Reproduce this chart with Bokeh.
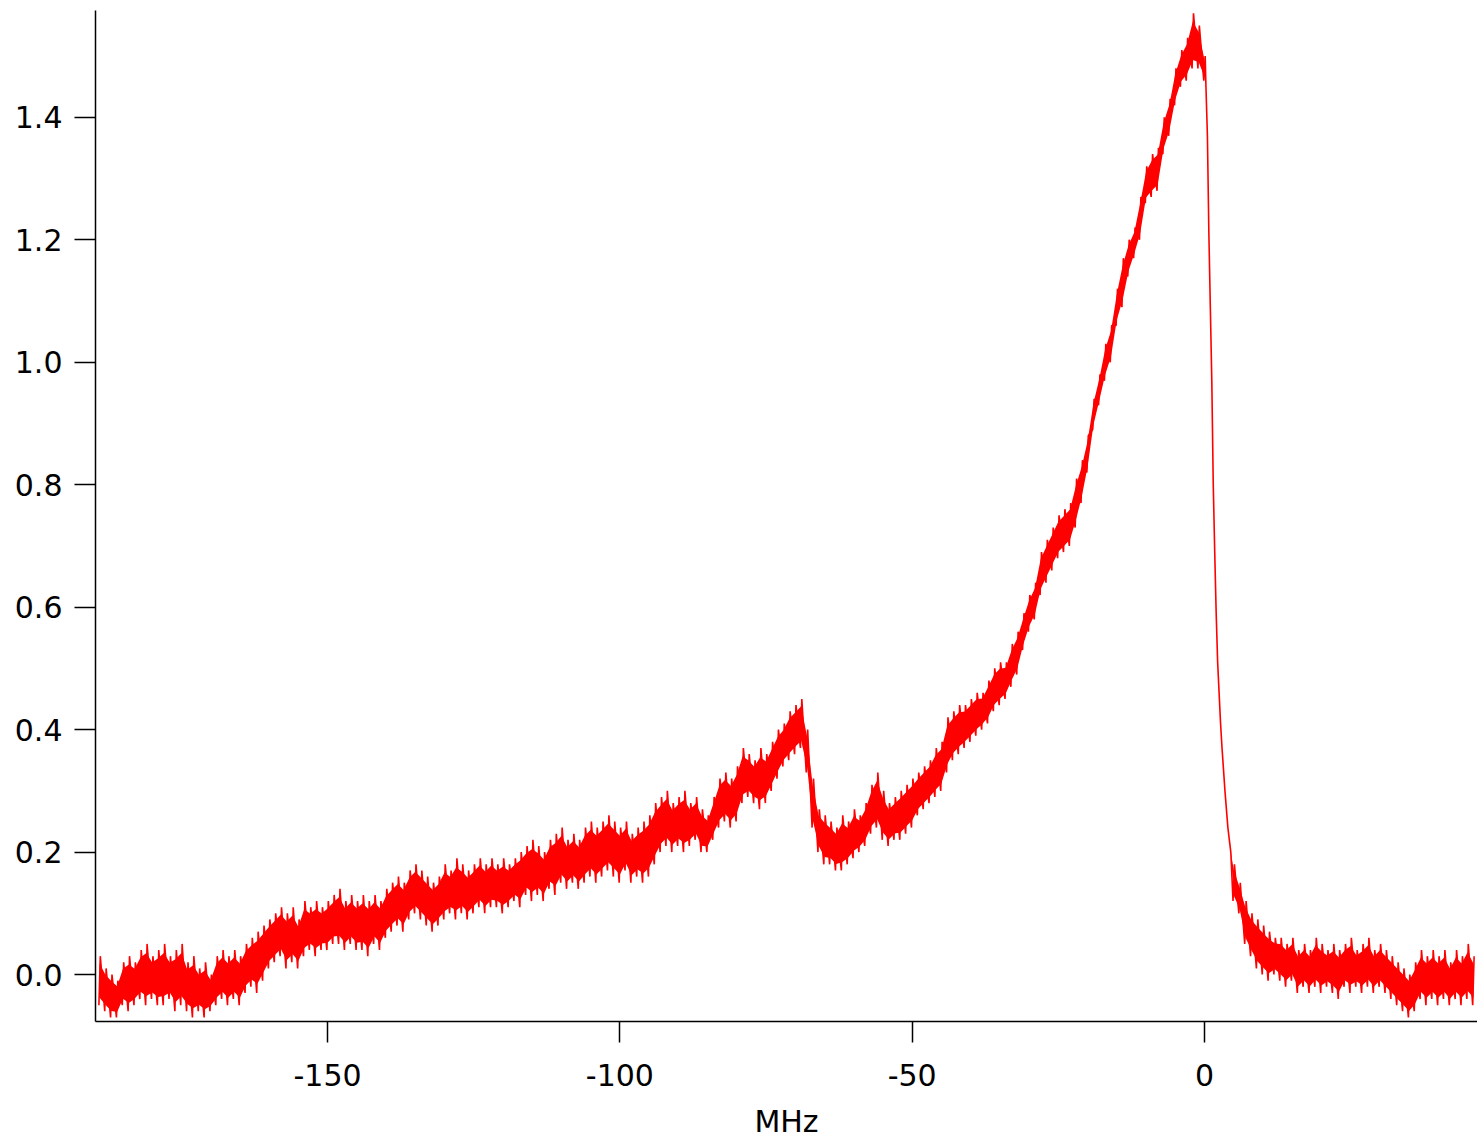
import numpy as np
from bokeh.plotting import figure
from bokeh.models import Range1d, FixedTicker, PrintfTickFormatter
from bokeh.embed import file_html
from bokeh.resources import INLINE

# ---- data (MHz, signal envelope) ----
freq_left = list(range(-189, 1))          # -189 .. 0, 1 MHz steps
upper_left = [
    0.03, 0.01, 0.00, -0.01, 0.02, 0.03, 0.02, 0.04, 0.05, 0.03,
    0.04, 0.05, 0.03, 0.04, 0.05, 0.02, 0.03, 0.01, 0.02, 0.00,
    0.03, 0.04, 0.03, 0.04, 0.03, 0.05, 0.06, 0.07, 0.08, 0.09,
    0.10, 0.11, 0.10, 0.11, 0.09, 0.12, 0.11, 0.12, 0.11, 0.12,
    0.13, 0.14, 0.12, 0.13, 0.12, 0.13, 0.12, 0.13, 0.12, 0.14,
    0.15, 0.16, 0.15, 0.17, 0.18, 0.17, 0.16, 0.15, 0.16, 0.18,
    0.17, 0.19, 0.18, 0.17, 0.18, 0.19, 0.18, 0.19, 0.18, 0.19,
    0.18, 0.19, 0.20, 0.21, 0.22, 0.21, 0.20, 0.22, 0.23, 0.24,
    0.22, 0.23, 0.22, 0.24, 0.25, 0.24, 0.25, 0.26, 0.25, 0.24,
    0.25, 0.23, 0.24, 0.25, 0.26, 0.28, 0.29, 0.30, 0.28, 0.29,
    0.30, 0.28, 0.29, 0.27, 0.26, 0.29, 0.32, 0.33, 0.32, 0.34,
    0.37, 0.36, 0.35, 0.37, 0.36, 0.38, 0.40, 0.41, 0.43, 0.44,
    0.45, 0.40, 0.32, 0.27, 0.26, 0.25, 0.24, 0.26, 0.25, 0.27,
    0.26, 0.28, 0.31, 0.33, 0.30, 0.28, 0.29, 0.30, 0.31, 0.32,
    0.33, 0.34, 0.35, 0.37, 0.38, 0.42, 0.43, 0.44, 0.44, 0.45,
    0.46, 0.46, 0.48, 0.50, 0.51, 0.51, 0.54, 0.56, 0.59, 0.62,
    0.64, 0.69, 0.71, 0.73, 0.75, 0.76, 0.77, 0.81, 0.84, 0.88,
    0.94, 0.98, 1.03, 1.06, 1.12, 1.17, 1.20, 1.22, 1.27, 1.32,
    1.34, 1.35, 1.40, 1.43, 1.48, 1.51, 1.53, 1.57, 1.55, 1.50,
]
lower_left = [
    -0.05, -0.06, -0.07, -0.07, -0.05, -0.06, -0.05, -0.04, -0.05, -0.04,
    -0.05, -0.05, -0.04, -0.06, -0.05, -0.06, -0.07, -0.06, -0.07, -0.06,
    -0.05, -0.04, -0.05, -0.04, -0.05, -0.03, -0.02, -0.03, -0.01, 0.01,
    0.02, 0.03, 0.01, 0.02, 0.01, 0.03, 0.04, 0.03, 0.04, 0.04,
    0.05, 0.05, 0.04, 0.05, 0.04, 0.04, 0.03, 0.05, 0.04, 0.06,
    0.07, 0.08, 0.07, 0.09, 0.10, 0.09, 0.08, 0.07, 0.08, 0.09,
    0.10, 0.09, 0.10, 0.09, 0.10, 0.11, 0.10, 0.11, 0.11, 0.10,
    0.11, 0.12, 0.11, 0.13, 0.12, 0.13, 0.12, 0.14, 0.13, 0.15,
    0.14, 0.15, 0.14, 0.15, 0.16, 0.15, 0.16, 0.17, 0.16, 0.15,
    0.17, 0.15, 0.16, 0.15, 0.16, 0.18, 0.20, 0.21, 0.20, 0.21,
    0.20, 0.21, 0.22, 0.20, 0.20, 0.22, 0.24, 0.25, 0.24, 0.25,
    0.28, 0.29, 0.28, 0.27, 0.28, 0.30, 0.32, 0.34, 0.35, 0.36,
    0.37, 0.33, 0.24, 0.20, 0.18, 0.18, 0.17, 0.17, 0.18, 0.19,
    0.20, 0.21, 0.23, 0.24, 0.22, 0.21, 0.22, 0.22, 0.23, 0.24,
    0.26, 0.27, 0.28, 0.29, 0.30, 0.33, 0.35, 0.36, 0.37, 0.38,
    0.39, 0.40, 0.41, 0.43, 0.44, 0.45, 0.47, 0.49, 0.53, 0.56,
    0.58, 0.62, 0.64, 0.66, 0.68, 0.69, 0.70, 0.73, 0.77, 0.82,
    0.89, 0.93, 0.97, 1.00, 1.06, 1.09, 1.14, 1.17, 1.20, 1.26,
    1.27, 1.28, 1.34, 1.37, 1.42, 1.45, 1.46, 1.48, 1.48, 1.46,
]
freq_edge = [0.25, 0.5, 0.75, 1.0, 1.25, 1.5, 1.75, 2.0, 2.25, 2.5, 2.75, 3.0, 3.5, 4.0, 4.5]
signal_edge = [1.45, 1.37, 1.21, 1.09, 0.97, 0.80, 0.69, 0.59, 0.51, 0.46, 0.41, 0.37, 0.30, 0.24, 0.20]
freq_tail = list(range(5, 47))
upper_tail = [
    0.18, 0.15, 0.12, 0.10, 0.09, 0.08, 0.07, 0.06, 0.06, 0.05,
    0.06, 0.04, 0.05, 0.04, 0.06, 0.05, 0.04, 0.05, 0.04, 0.05,
    0.06, 0.04, 0.05, 0.06, 0.04, 0.05, 0.04, 0.03, 0.02, 0.01,
    0.00, 0.02, 0.04, 0.03, 0.04, 0.03, 0.04, 0.02, 0.04, 0.03,
    0.05, 0.03,
]
lower_tail = [
    0.12, 0.10, 0.05, 0.03, 0.01, 0.00, -0.01, 0.00, -0.01, -0.02,
    -0.01, -0.03, -0.02, -0.03, -0.02, -0.03, -0.02, -0.03, -0.04, -0.02,
    -0.03, -0.02, -0.03, -0.02, -0.03, -0.02, -0.03, -0.04, -0.05, -0.06,
    -0.07, -0.06, -0.04, -0.05, -0.04, -0.05, -0.04, -0.05, -0.04, -0.05,
    -0.04, -0.05,
]
y_ticks = [0.0, 0.2, 0.4, 0.6, 0.8, 1.0, 1.2, 1.4]
x_ticks = [-150, -100, -50, 0]
x_tick_labels = ["-150", "-100", "-50", "0"]

assert len(freq_left) == len(upper_left) == len(lower_left)
assert len(freq_edge) == len(signal_edge)
assert len(freq_tail) == len(upper_tail) == len(lower_tail)

# ---- build the drawn trace: spikes reach the envelope, a solid core fills the middle ----
def zigzag(f, up, lo, d=0.12):
    xs, ys = [], []
    for fi, u, l in zip(f, up, lo):
        xs += [fi - d, fi + d]
        ys += [l, u]
    return xs, ys

zx1, zy1 = zigzag(freq_left, upper_left, lower_left)
zx2, zy2 = zigzag(freq_tail, upper_tail, lower_tail)
line_x = zx1 + freq_edge + zx2
line_y = zy1 + signal_edge + zy2

band_x = np.array(freq_left + freq_edge + freq_tail, dtype=float)
hi = np.array(upper_left + signal_edge + upper_tail)
lo = np.array(lower_left + signal_edge + lower_tail)
core_hi = hi - 0.15 * (hi - lo)
core_lo = lo + 0.15 * (hi - lo)

p = figure(width=1477, height=1141,
           x_range=Range1d(-189.7, 46.7), y_range=Range1d(-0.0767, 1.5745),
           output_backend="svg", toolbar_location=None,
           min_border_left=95, min_border_right=0, min_border_top=10, min_border_bottom=119)
p.outline_line_color = None
p.xgrid.visible = False
p.ygrid.visible = False
p.background_fill_color = "white"
p.border_fill_color = "white"

p.varea(x=band_x, y1=core_lo, y2=core_hi, fill_color="#ff0000", fill_alpha=1.0)
p.line(line_x, line_y, line_color="#ff0000", line_width=1.6)

font = "DejaVu Sans"
for ax in (p.xaxis[0], p.yaxis[0]):
    ax.axis_line_color = "black"
    ax.axis_line_width = 1.5
    ax.major_tick_line_color = "black"
    ax.major_tick_line_width = 1.5
    ax.major_tick_out = 21
    ax.major_tick_in = 0
    ax.minor_tick_line_color = None
    ax.major_label_text_font = font
    ax.major_label_text_font_size = "30px"
    ax.major_label_text_color = "black"

p.yaxis[0].ticker = FixedTicker(ticks=y_ticks)
p.yaxis[0].formatter = PrintfTickFormatter(format="%.1f")
p.yaxis[0].major_label_standoff = 12
p.xaxis[0].ticker = FixedTicker(ticks=x_ticks)
p.xaxis[0].major_label_overrides = dict(zip(x_ticks, x_tick_labels))
p.xaxis[0].major_label_standoff = 21
p.xaxis[0].axis_label = "MHz"
p.xaxis[0].axis_label_text_font = font
p.xaxis[0].axis_label_text_font_size = "30px"
p.xaxis[0].axis_label_text_font_style = "normal"
p.xaxis[0].axis_label_text_color = "black"
p.xaxis[0].axis_label_standoff = 15

open("out.html", "w").write(file_html(p, INLINE))
